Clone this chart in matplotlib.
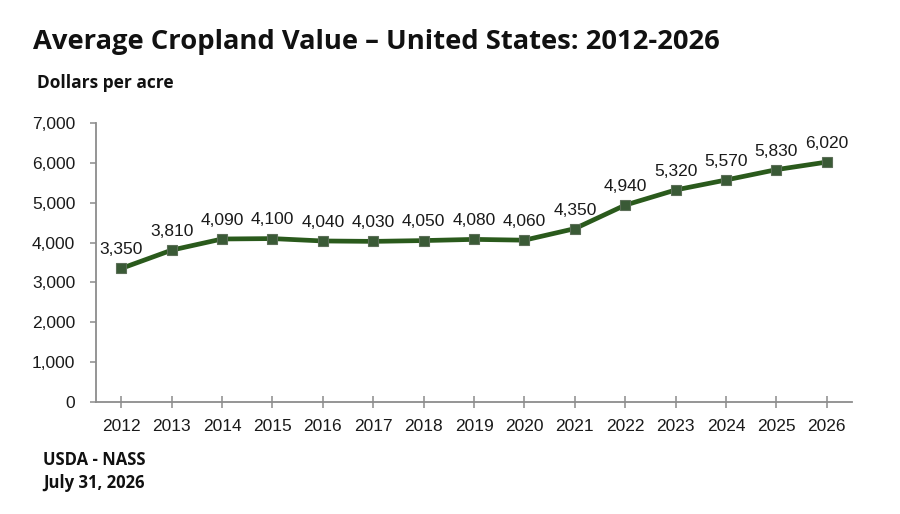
import matplotlib
matplotlib.use("Agg")
from matplotlib import pyplot as plt
from matplotlib.ticker import FuncFormatter

years = [2012, 2013, 2014, 2015, 2016, 2017, 2018, 2019, 2020,
         2021, 2022, 2023, 2024, 2025, 2026]
values = [3350, 3810, 4090, 4100, 4040, 4030, 4050, 4080, 4060,
          4350, 4940, 5320, 5570, 5830, 6020]
y_ticks = [0, 1000, 2000, 3000, 4000, 5000, 6000, 7000]

title = "Average Cropland Value \u2013 United States: 2012-2026"
unit_label = "Dollars per acre"
source_lines = ["USDA - NASS", "July 31, 2026"]

line_color = "#2a5a1c"
marker_color = "#3a5a36"
axis_color = "#8c8c8c"


def comma(v, _pos=None):
    return f"{int(v):,}"


fig = plt.figure(figsize=(9, 5.14), dpi=100)
ax = fig.add_axes([0.1067, 0.2179, 0.84, 0.5428])

ax.plot(years, values, color=line_color, linewidth=3.4, zorder=2)
ax.plot(years, values, linestyle="none", marker="s", markersize=6.5,
        markerfacecolor=marker_color, markeredgecolor="#5c6e58",
        markeredgewidth=0.8, zorder=3)

for x, v in zip(years, values):
    ax.annotate(comma(v), (x, v), xytext=(0, 8), textcoords="offset points",
                ha="center", va="bottom", fontsize=12.5,
                family="Liberation Sans", color="#1a1a1a")

ax.set_xlim(years[0] - 0.5, years[-1] + 0.5)
ax.set_ylim(0, 7000)
ax.set_xticks(years)
ax.set_yticks(y_ticks)
ax.yaxis.set_major_formatter(FuncFormatter(comma))

for side in ("top", "right"):
    ax.spines[side].set_visible(False)
for side in ("left", "bottom"):
    ax.spines[side].set_color(axis_color)
    ax.spines[side].set_linewidth(1.3)

ax.tick_params(axis="x", direction="inout", length=8, width=1.1,
               color=axis_color, pad=8, labelsize=12.5)
ax.tick_params(axis="y", direction="out", length=4, width=1.1,
               color=axis_color, pad=11, labelsize=12.5)
for lbl in ax.get_xticklabels() + ax.get_yticklabels():
    lbl.set_family("Liberation Sans")
    lbl.set_color("#1a1a1a")

fig.text(0.037, 0.918, title, fontsize=19.7, fontweight="bold",
         family="Open Sans", va="center", ha="left", color="#111111")
fig.text(0.041, 0.838, unit_label, fontsize=12.5, fontweight="bold",
         family="Open Sans", va="center", ha="left", color="#111111")
fig.text(0.048, 0.105, source_lines[0], fontsize=12, fontweight="bold",
         family="Open Sans", va="center", ha="left", color="#111111")
fig.text(0.048, 0.060, source_lines[1], fontsize=12, fontweight="bold",
         family="Open Sans", va="center", ha="left", color="#111111")

fig.savefig("out.png", dpi=100)
